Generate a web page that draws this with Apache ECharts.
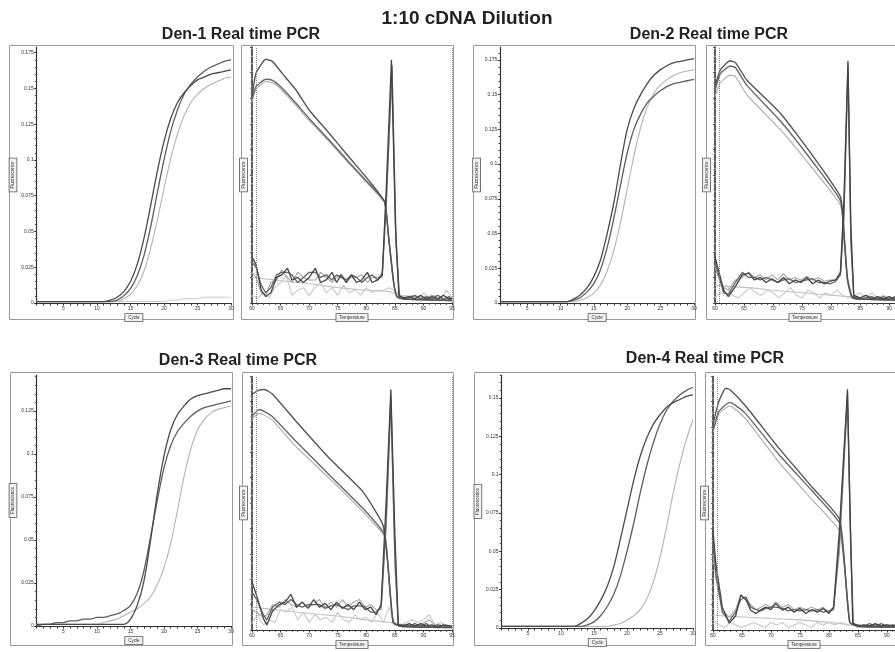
<!DOCTYPE html>
<html><head><meta charset="utf-8">
<script src="https://cdn.jsdelivr.net/npm/echarts@6/dist/echarts.min.js"></script>
<style>html,body{margin:0;padding:0;background:#fff}#c{width:895px;height:652px}</style>
</head><body><div id="c"></div>
<script>
// ---------- DATA ----------
const cycles = [1,2,3,4,5,6,7,8,9,10,11,12,13,14,15,16,17,18,19,20,21,22,23,24,25,26,27,28,29,30];
const cycleTickLabels = [5,10,15,20,25,30];
const tempTickLabels = [60,65,70,75,80,85,90,95];
const tempTickLabelsCut = [60,65,70,75,80,85,90];

const den1YTicks = [0,0.025,0.05,0.075,0.1,0.125,0.15,0.175];
const den2YTicks = [0,0.025,0.05,0.075,0.1,0.125,0.15,0.175];
const den3YTicks = [0,0.025,0.05,0.075,0.1,0.125];
const den4YTicks = [0,0.025,0.05,0.075,0.1,0.125,0.15];

const den1AmpA = [0.001,0.001,0.001,0.001,0.001,0.001,0.001,0.001,0.001,0.001,0.001,0.002,0.004,0.008,0.015,0.027,0.045,0.068,0.092,0.113,0.129,0.140,0.147,0.152,0.156,0.158,0.160,0.161,0.162,0.163];
const den1AmpB = [0.001,0.001,0.001,0.001,0.001,0.001,0.001,0.001,0.001,0.001,0.001,0.001,0.002,0.005,0.010,0.019,0.033,0.053,0.077,0.100,0.120,0.135,0.146,0.153,0.158,0.162,0.165,0.167,0.169,0.170];
const den1AmpC = [0.001,0.001,0.001,0.001,0.001,0.001,0.001,0.001,0.001,0.001,0.001,0.001,0.001,0.003,0.006,0.012,0.022,0.038,0.058,0.080,0.101,0.118,0.131,0.140,0.146,0.150,0.153,0.155,0.157,0.158];
const den1Ntc  = [0.001,0.001,0.001,0.001,0.001,0.001,0.001,0.001,0.001,0.001,0.001,0.001,0.001,0.001,0.001,0.001,0.001,0.001,0.001,0.001,0.002,0.002,0.003,0.003,0.003,0.004,0.004,0.004,0.004,0.004];

const den2AmpA = [0.001,0.001,0.001,0.001,0.001,0.001,0.001,0.001,0.001,0.001,0.001,0.003,0.006,0.011,0.019,0.031,0.050,0.072,0.100,0.125,0.140,0.150,0.158,0.164,0.168,0.171,0.173,0.174,0.175,0.176];
const den2AmpB = [0.001,0.001,0.001,0.001,0.001,0.001,0.001,0.001,0.001,0.001,0.001,0.002,0.004,0.008,0.014,0.024,0.040,0.061,0.085,0.108,0.125,0.136,0.144,0.149,0.153,0.156,0.158,0.159,0.160,0.161];
const den2AmpC = [0.001,0.001,0.001,0.001,0.001,0.001,0.001,0.001,0.001,0.001,0.001,0.001,0.002,0.004,0.007,0.013,0.023,0.038,0.058,0.082,0.106,0.126,0.141,0.151,0.157,0.161,0.164,0.166,0.167,0.168];

const den3AmpA = [0.001,0.001,0.001,0.001,0.001,0.001,0.001,0.001,0.001,0.001,0.001,0.001,0.001,0.001,0.004,0.012,0.026,0.050,0.077,0.099,0.114,0.123,0.128,0.132,0.134,0.135,0.136,0.137,0.138,0.138];
const den3AmpB = [0.000,0.001,0.001,0.002,0.002,0.003,0.003,0.004,0.004,0.005,0.005,0.006,0.007,0.009,0.012,0.019,0.032,0.052,0.073,0.092,0.105,0.113,0.118,0.122,0.125,0.127,0.128,0.129,0.130,0.131];
const den3AmpC = [0.001,0.001,0.001,0.001,0.001,0.001,0.001,0.001,0.001,0.001,0.002,0.003,0.004,0.006,0.008,0.010,0.013,0.017,0.024,0.034,0.048,0.067,0.087,0.103,0.114,0.120,0.124,0.126,0.127,0.128];

const den4AmpA = [0.001,0.001,0.001,0.001,0.001,0.001,0.001,0.001,0.001,0.001,0.001,0.001,0.003,0.006,0.011,0.018,0.027,0.040,0.058,0.077,0.096,0.112,0.124,0.133,0.139,0.144,0.147,0.149,0.151,0.152];
const den4AmpB = [0.001,0.001,0.001,0.001,0.001,0.001,0.001,0.001,0.001,0.001,0.001,0.001,0.001,0.002,0.004,0.008,0.014,0.022,0.034,0.050,0.068,0.088,0.106,0.121,0.133,0.142,0.148,0.152,0.155,0.157];
const den4AmpC = [0.001,0.001,0.001,0.001,0.001,0.001,0.001,0.001,0.001,0.001,0.001,0.001,0.001,0.001,0.001,0.001,0.001,0.002,0.003,0.005,0.008,0.012,0.019,0.030,0.046,0.066,0.088,0.107,0.123,0.136];

const ampThresholds = [0.0015,0.0015,0.002,0.0015];

// melt curves: [temperature, relative fluorescence / derivative]
const den1RawA = [[60,80.6],[60.7,89.7],[62.4,95.2],[63.6,94.3],[65.3,89.7],[67.7,83.2],[70,75.4],[73.5,66.3],[76.9,57.2],[80.4,48],[83.2,39.6],[83.9,26],[84.8,8],[85.4,2.5],[87,1.5],[95,1]];
const den1RawB = [[60,79.7],[60.7,84.5],[62.4,87.4],[63.6,87],[65.3,83.9],[67.7,78],[70,72.1],[73.5,63.7],[76.9,55.2],[80.4,46.8],[83.2,39.6],[83.9,26],[84.8,8],[85.4,2.5],[87,1.5],[95,1]];
const den1RawC = [[60,78.5],[60.7,83.5],[62.4,86.5],[63.6,86],[65.3,83],[67.7,77.2],[70,71.3],[73.5,63],[76.9,54.6],[80.4,46.2],[83.2,39],[83.9,25],[84.8,7],[85.4,2],[87,1.5],[95,1]];
const den1DerA = [[60,18],[60.7,15],[61.6,5],[62.4,2.5],[63.3,4],[64.3,10],[65.2,11],[66.2,13.6],[67,9],[68,10],[69,8],[70,10],[71.1,13.6],[72,8],[73,9],[74,12],[74.8,8],[75.6,11],[76.5,8],[77.4,11],[78.3,8],[79.2,9],[80.2,12],[81,8],[82,9],[82.8,11],[83.5,45],[84.4,95],[85.1,30],[85.7,3],[86.5,2],[87.5,2.5],[88.5,1.5],[89.5,3],[90.5,1.5],[91.5,2.5],[92.5,1.5],[93.5,3],[94.5,1.5],[95,2]];
const den1DerB = [[60,16],[60.7,14],[61.6,7],[62.4,4],[63.3,6],[64.3,11],[65.2,12],[66.2,12],[67,11],[68,8],[69,10],[70,12],[71.1,12],[72,10],[73,11],[74,9],[74.8,11],[75.6,10],[76.5,9],[77.4,11],[78.3,10],[79.2,8],[80.2,10],[81,11],[82,9],[82.8,12],[83.5,40],[84.5,93],[85.2,25],[85.8,2.5],[86.5,1.5],[87.5,2],[88.5,3],[89.5,1.5],[90.5,2.5],[91.5,1.5],[92.5,3],[93.5,1.5],[94.5,2.5],[95,1]];
const den1DerC = [[60,12],[60.7,10],[61.6,4],[62.4,3],[63.3,8],[64.3,9],[65.2,13],[66.2,10],[67,8],[68,12],[69,10],[70,9],[71.1,9],[72,12],[73,10],[74,8],[74.8,10],[75.6,11],[76.5,9],[77.4,10],[78.3,10],[79.2,11],[80.2,8],[81,10],[82,10],[82.8,10],[83.5,38],[84.5,90],[85.2,22],[85.8,2],[87,2],[88.5,2.5],[90,1.5],[91.5,3],[93,1.5],[95,2]];
const den1NtcA = [[60,10],[62,9.5],[66,8.5],[70,7.5],[75,6],[80,5],[84,4.5],[86,3],[90,2],[95,1.5]];
const den1NtcB = [[60,3],[61,2],[62,4],[63,2],[64,6],[65,8],[66,10.5],[67,3],[68,5],[69,6],[70,3],[71,6],[72,8],[73,4],[74,6],[75,3],[76,7],[77,4],[78,5],[79,3],[80,6],[81,4],[82,5],[83,5],[84,6],[85,5],[86,3],[87,2],[88,3],[89,1],[90,4],[91,2],[92,3],[93,1],[94,5],[95,2]];

const den2RawA = [[60,84.5],[60.9,91],[62.6,94.6],[63.5,94],[65.5,87],[71.3,74],[77,57],[81.6,41.5],[82.2,28],[82.8,10],[83.6,2.5],[85,1.5],[95,1]];
const den2RawB = [[60,83],[60.9,89.5],[62.6,92.6],[63.5,92],[65.5,85],[71.3,71],[77,54.6],[81.6,40],[82.2,27],[82.8,9],[83.6,2],[85,1.5],[95,1]];
const den2RawC = [[60,80.6],[60.9,86],[62.6,89],[63.5,88.5],[65.5,81.3],[71.3,67.6],[77,52],[81.6,38.3],[82.2,26],[82.8,9],[83.6,2],[85,1.5],[95,1]];
const den2DerA = [[60,18],[60.6,12.8],[61.5,5],[62.3,2.5],[63.5,6.4],[64.7,11],[65.8,11.7],[66.8,9],[67.8,10],[68.8,8],[69.8,9.5],[70.8,8],[71.8,10],[72.8,7.5],[73.8,9],[74.8,8],[75.8,10],[76.8,7.5],[77.8,9],[78.8,7.5],[79.8,8.5],[80.8,9],[81.6,12],[82.2,40],[82.9,94.6],[83.4,30],[83.9,3],[85,2],[86,3],[87,1.5],[88,2.5],[89,1.5],[90,2.5],[91,1.5],[92,2],[93,1.5],[95,2]];
const den2DerB = [[60,16],[60.6,11],[61.5,4],[62.3,3.5],[63.5,8],[64.7,12],[65.8,10],[66.8,10],[67.8,9],[68.8,10],[69.8,9],[70.8,8],[71.8,9],[72.8,9.5],[73.8,8],[74.8,8.5],[75.8,9],[76.8,9.5],[77.8,8],[78.8,8],[79.8,7.5],[80.8,8.5],[81.6,11],[82.2,35],[82.9,93],[83.4,25],[83.9,2.5],[85,1.5],[86,2],[87,2.5],[88,1.5],[89,2.5],[90,1.5],[91,2.5],[92,1.5],[93,2.5],[95,1.5]];
const den2DerC = [[60,14],[60.6,10],[61.5,6],[62.3,5],[63.5,9],[64.7,10],[65.8,12],[66.8,10],[67.8,11],[68.8,9],[69.8,11],[70.8,9],[71.8,11.5],[72.8,9],[73.8,10],[74.8,9],[75.8,10.5],[76.8,9],[77.8,10],[78.8,8.5],[79.8,9],[80.8,9],[81.6,11],[82.2,30],[82.9,90],[83.4,22],[83.9,2],[85,1.5],[87,2],[89,1.5],[91,2],[93,1.5],[95,1.5]];
const den2NtcA = [[60,7],[62,6.5],[66,6],[70,5],[75,4],[80,3],[83,2.5],[87,1.5],[95,1]];
const den2NtcB = [[60,2],[61,4],[62,7],[63,3],[64,2],[65,4],[66,6],[67,4],[68,3],[69,5],[70,4],[71,2],[72,4],[73,6],[74,3],[75,2],[76,5],[77,4],[78,2],[79,4],[80,3],[81,5],[82,3],[83,2],[84,3],[85,4],[86,2],[87,4],[88,2],[89,3],[90,2],[95,2]];

const den3RawA = [[60,92.8],[61.3,94.5],[62.2,94.7],[63.6,92.8],[67.7,82.2],[73.5,67.7],[79.4,54.5],[82.9,41.4],[83.8,25.6],[84.7,3],[86,1.5],[95,1]];
const den3RawB = [[60,84.2],[61.3,86.8],[62.2,86],[63.6,84],[67.7,74.3],[73.5,61.1],[79.4,47.9],[83.2,37.5],[83.8,25],[84.7,3],[86,1.5],[95,1]];
const den3RawC = [[60,83.4],[61.3,85.3],[62.2,84.5],[63.6,82.5],[67.7,72.2],[73.5,59.8],[79.4,46.6],[83.2,36.8],[83.8,24],[84.7,2.5],[86,1.5],[95,1]];
const den3DerA = [[60,19],[60.8,13.6],[62,4.5],[62.6,2],[63.6,7.5],[64.8,10],[65.8,11],[66.8,14],[67.8,9],[68.8,11],[69.8,8.5],[70.8,12],[71.8,9],[72.8,10.5],[73.8,8],[74.8,11],[75.8,8.5],[76.8,10],[77.8,8],[78.8,11],[79.8,8],[80.8,9],[81.7,6],[82.6,10],[83.5,52],[84.3,94.7],[85,38],[85.6,2],[86.5,1.5],[87.5,2.5],[88.5,1.5],[89.5,2.5],[90.5,1.5],[91.5,2],[92.5,1],[93.5,2],[95,1.5]];
const den3DerB = [[60,15],[60.8,12],[62,6],[62.6,4],[63.6,9],[64.8,11],[65.8,10],[66.8,12],[67.8,10],[68.8,9],[69.8,10],[70.8,10],[71.8,10],[72.8,8.5],[73.8,9.5],[74.8,10],[75.8,9],[76.8,8],[77.8,9.5],[78.8,9.5],[79.8,9],[80.8,7],[81.7,7],[82.6,9],[83.5,45],[84.3,92],[85,30],[85.6,2],[86.5,2],[87.5,1.5],[88.5,2.5],[89.5,1.5],[90.5,2.5],[91.5,1],[92.5,2],[93.5,1.5],[95,1]];
const den3DerC = [[60,8],[60.8,7],[62,5],[62.6,6],[63.6,10],[64.8,9],[65.8,12],[66.8,10],[67.8,9],[68.8,11],[69.8,9],[70.8,10],[71.8,12],[72.8,9],[73.8,11],[74.8,9],[75.8,12],[76.8,9],[77.8,11],[78.8,12],[79.8,9],[80.8,10],[81.7,8],[82.6,8],[83.5,40],[84.3,88],[85,25],[85.6,2],[87,2],[89,1.5],[91,4],[92,2],[95,1.5]];
const den3NtcA = [[60,9],[62,8.5],[66,7.5],[70,6.5],[75,5.5],[80,4],[84,3],[87,2],[95,1]];
const den3NtcB = [[60,3],[61,6],[62,2],[63,4],[64,3],[65,8],[66,7],[67,9],[68,4],[69,7],[70,3],[71,6],[72,4],[73,5],[74,3],[75,7],[76,4],[77,3],[78,6],[79,4],[80,5],[81,3],[82,7],[83,3],[84,9],[85,3],[86,2],[87,3],[88,4],[89,3],[90,4],[91,6],[92,2],[93,3],[94,2],[95,1.5]];

const den4RawA = [[60,81],[61,90],[62.2,95.2],[63,94.5],[65.7,88],[71.4,71.5],[77.2,56],[81.8,43.8],[82.7,26],[83.6,3],[85,1.5],[95,1]];
const den4RawB = [[60,78.4],[61,86],[62.8,89.5],[63.5,89],[65.7,85],[71.4,69],[77.2,54.5],[81.8,42.2],[82.7,25],[83.6,3],[85,1.5],[95,1]];
const den4RawC = [[60,78],[61,85],[62.8,88.2],[63.5,87.5],[65.7,83],[71.4,66],[77.2,51],[81.8,39.2],[82.7,24],[83.6,3],[85,1.5],[95,1]];
const den4DerA = [[60,39],[60.5,26],[61.6,9],[62.8,2.7],[63.9,5.5],[64.8,13.7],[65.7,11.8],[66.5,7.8],[67.4,6.5],[68.3,8],[69.1,9],[70,8],[70.8,10.4],[72,7.8],[73,9],[74,7],[75,8.5],[76,6.5],[77,8],[78,7],[79,8.5],[80,6.5],[80.8,9],[81.8,39],[83.2,94.8],[83.6,52],[84.1,2.7],[85,1.5],[86,2],[87,1.5],[88,2.5],[89,1.5],[90,2],[91,1.5],[92,2.5],[93,1.5],[94,2.5],[95,1.5]];
const den4DerB = [[60,35],[60.5,22],[61.6,7],[62.8,3.5],[63.9,7],[64.8,12],[65.7,13],[66.5,9],[67.4,8],[68.3,7.5],[69.1,8.5],[70,9],[70.8,9],[72,8.5],[73,7.5],[74,8],[75,7.5],[76,8],[77,7.5],[78,8],[79,7],[80,7.5],[80.8,8],[81.8,35],[83.2,93],[83.7,40],[84.2,2.5],[85,2],[86,1.5],[87,2.5],[88,1.5],[89,2.5],[90,1.5],[91,2],[92,1.5],[93,2],[95,1.5]];
const den4DerC = [[60,30],[60.5,20],[61.6,8],[62.8,5],[63.9,8],[64.8,14],[65.7,12],[66.5,10],[67.4,8],[68.3,9],[69.1,10],[70,9],[70.8,11],[72,9],[73,10],[74,8],[75,9],[76,8],[77,9],[78,8],[79,9],[80,7],[80.8,9],[81.8,30],[83.2,90],[83.7,35],[84.2,2],[86,1.5],[88,2],[90,1.5],[92,2],[95,1.5]];
const den4NtcA = [[60,6],[62,5.5],[66,5],[70,4.5],[75,4],[80,3],[84,2],[88,1.5],[95,1]];
const den4NtcB = [[60,4],[61,2],[62,1],[63,3],[64,2],[65,1],[66,2],[67,3],[68,2],[69,1],[70,3],[71,2],[72,3],[73,1],[74,2],[75,3],[76,2],[77,1],[78,3],[79,2],[80,3],[81,2],[82,3],[83,2],[84,2],[85,1],[86,2],[87,1],[88,2],[89,1],[90,2],[95,1]];

const mainTitle = '1:10 cDNA Dilution';
const panelTitles = ['Den-1 Real time PCR','Den-2 Real time PCR','Den-3 Real time PCR','Den-4 Real time PCR'];

// ---------- LAYOUT ----------
const FONT = '"Liberation Sans", Arial, sans-serif';
const panels = [
  {title:panelTitles[0], tx:241, ty:35,
   amp:{left:36.7, top:47, width:194.3, height:256, ymax:0.179, yTicks:den1YTicks, series:[den1AmpA,den1AmpB,den1AmpC], ntc:den1Ntc, thr:ampThresholds[0]},
   melt:{left:252, top:47, width:200, height:256, xmax:95, labels:tempTickLabels, raw:[den1RawA,den1RawB,den1RawC], der:[den1DerA,den1DerB,den1DerC], ntc:[den1NtcA,den1NtcB]},
   boxA:[9,45,224,274], boxM:[241,45,212,274]},
  {title:panelTitles[1], tx:709, ty:35,
   amp:{left:500.3, top:47, width:193.7, height:256, ymax:0.1843, yTicks:den2YTicks, series:[den2AmpA,den2AmpB,den2AmpC], ntc:null, thr:ampThresholds[1]},
   melt:{left:715, top:47, width:180, height:256, xmax:91, labels:tempTickLabelsCut, raw:[den2RawA,den2RawB,den2RawC], der:[den2DerA,den2DerB,den2DerC], ntc:[den2NtcA,den2NtcB]},
   boxA:[473,45,222,274], boxM:[706,45,220,274]},
  {title:panelTitles[2], tx:238, ty:361,
   amp:{left:36.7, top:375, width:194.3, height:251, ymax:0.146, yTicks:den3YTicks, series:[den3AmpA,den3AmpB,den3AmpC], ntc:null, thr:ampThresholds[2]},
   melt:{left:252, top:376, width:200, height:254, xmax:95, labels:tempTickLabels, raw:[den3RawA,den3RawB,den3RawC], der:[den3DerA,den3DerB,den3DerC], ntc:[den3NtcA,den3NtcB]},
   boxA:[10,372,222,273], boxM:[242,372,211,273]},
  {title:panelTitles[3], tx:705, ty:359,
   amp:{left:501.6, top:375, width:191.4, height:253, ymax:0.165, yTicks:den4YTicks, series:[den4AmpA,den4AmpB,den4AmpC], ntc:null, thr:ampThresholds[3]},
   melt:{left:713, top:376, width:182, height:254, xmax:91.4, labels:tempTickLabelsCut, raw:[den4RawA,den4RawB,den4RawC], der:[den4DerA,den4DerB,den4DerC], ntc:[den4NtcA,den4NtcB]},
   boxA:[474,372,221,273], boxM:[705,372,220,273]}
];

const ampColors = ['#4a4a4a','#5e5e5e','#b3b3b3'];
const rawColors = ['#555555','#686868','#ababab'];
const derColors = ['#444444','#646464','#a6a6a6'];
const ntcColors = ['#c2c2c2','#c9c9c9'];

const nameStyle = {fontSize:4.5, color:'#333', fontFamily:FONT, borderColor:'#555', borderWidth:0.8, padding:[1,3], backgroundColor:'#f2f2f2'};
const labelStyle = {fontSize:5, color:'#333', fontFamily:FONT, margin:3};

const grids=[], xAxes=[], yAxes=[], series=[], graphics=[];

graphics.push({type:'text', style:{text:mainTitle, x:467, y:19, font:'bold 19px '+FONT, fill:'#222', textAlign:'center', textVerticalAlign:'middle'}});

panels.forEach((p)=>{
  graphics.push({type:'text', style:{text:p.title, x:p.tx, y:p.ty, font:'bold 16px '+FONT, fill:'#222', textAlign:'center', textVerticalAlign:'middle'}});
  [p.boxA,p.boxM].forEach(b=>graphics.push({type:'rect', z:-10, silent:true, shape:{x:b[0]+0.5,y:b[1]+0.5,width:b[2],height:b[3]}, style:{fill:'none', stroke:'#9a9a9a', lineWidth:1}}));

  // amplification grid
  const a = p.amp;
  const gi = grids.length;
  grids.push({left:a.left, top:a.top, width:a.width, height:a.height, containLabel:false});
  xAxes.push({gridIndex:gi, type:'value', min:1, max:30,
    axisLine:{show:true, onZero:false, lineStyle:{color:'#333', width:1.2}},
    axisTick:{show:true, length:2.5, customValues:cycles, lineStyle:{color:'#333'}},
    axisLabel:Object.assign({customValues:cycleTickLabels}, labelStyle),
    splitLine:{show:false},
    name:'Cycle', nameLocation:'middle', nameGap:11, nameTextStyle:nameStyle});
  yAxes.push({gridIndex:gi, type:'value', min:0, max:a.ymax, interval:0.025,
    axisLine:{show:true, onZero:false, lineStyle:{color:'#333', width:1.2}},
    axisTick:{show:true, length:2.5, customValues:a.yTicks, lineStyle:{color:'#333'}},
    minorTick:{show:true, splitNumber:5, length:1.8, lineStyle:{color:'#444'}},
    axisLabel:Object.assign({customValues:a.yTicks}, labelStyle),
    splitLine:{show:false},
    name:'Fluorescence', nameLocation:'middle', nameGap:20, nameRotate:90, nameTextStyle:nameStyle});
  a.series.forEach((arr,k)=>{
    series.push({type:'line', xAxisIndex:gi, yAxisIndex:gi, showSymbol:false, smooth:0.3,
      data:cycles.map((c,i)=>[c,arr[i]]),
      lineStyle:{color:ampColors[k], width:k<2?1.3:1.1}, z:5-k,
      markLine: k===0 ? {silent:true, symbol:'none', label:{show:false},
        lineStyle:{color:'#333', type:[5,3], width:1.1}, data:[{yAxis:a.thr}]} : undefined});
  });
  if (a.ntc) series.push({type:'line', xAxisIndex:gi, yAxisIndex:gi, showSymbol:false, smooth:0.3,
      data:cycles.map((c,i)=>[c,a.ntc[i]]), lineStyle:{color:'#c8c8c8', width:1}, z:1});

  // melt grid
  const m = p.melt;
  const mi = grids.length;
  grids.push({left:m.left, top:m.top, width:m.width, height:m.height, containLabel:false});
  xAxes.push({gridIndex:mi, type:'value', min:60, max:m.xmax, interval:5,
    axisLine:{show:true, onZero:false, lineStyle:{color:'#333', width:1.2}},
    axisTick:{show:true, length:2.5, lineStyle:{color:'#333'}},
    minorTick:{show:true, splitNumber:5, length:1.8, lineStyle:{color:'#444'}},
    axisLabel:Object.assign({customValues:m.labels}, labelStyle),
    splitLine:{show:false},
    name:'Temperature', nameLocation:'middle', nameGap:11, nameTextStyle:nameStyle});
  yAxes.push({gridIndex:mi, type:'value', min:0, max:100, interval:10,
    axisLine:{show:true, onZero:false, lineStyle:{color:'#333', width:1.6, type:[6,1.5]}},
    axisTick:{show:true, length:2, lineStyle:{color:'#555'}},
    minorTick:{show:true, splitNumber:5, length:1.5, lineStyle:{color:'#777'}},
    axisLabel:{show:false}, splitLine:{show:false},
    name:'Fluorescence', nameLocation:'middle', nameGap:5, nameRotate:90, nameTextStyle:nameStyle});
  m.ntc.forEach((arr,k)=>series.push({type:'line', xAxisIndex:mi, yAxisIndex:mi, showSymbol:false,
      data:arr, lineStyle:{color:ntcColors[k], width:1.1}, z:1}));
  m.raw.forEach((arr,k)=>series.push({type:'line', xAxisIndex:mi, yAxisIndex:mi, showSymbol:false, smooth:0.15,
      data:arr, lineStyle:{color:rawColors[k], width:k<2?1.4:1.1}, z:4-k}));
  m.der.forEach((arr,k)=>series.push({type:'line', xAxisIndex:mi, yAxisIndex:mi, showSymbol:false,
      data:arr, lineStyle:{color:derColors[k], width:k<2?1.3:1.1}, z:4-k,
      markLine: k===0 ? {silent:true, symbol:'none', label:{show:false},
        lineStyle:{color:'#888', type:'dotted', width:1}, data:[{xAxis:60.7},{xAxis:95}]} : undefined}));
});

const chart = echarts.init(document.getElementById('c'), null, {renderer:'canvas'});
chart.setOption({
  backgroundColor:'#ffffff',
  animation:false,
  grid:grids, xAxis:xAxes, yAxis:yAxes, series:series,
  graphic:graphics
});
</script>
</body></html>
